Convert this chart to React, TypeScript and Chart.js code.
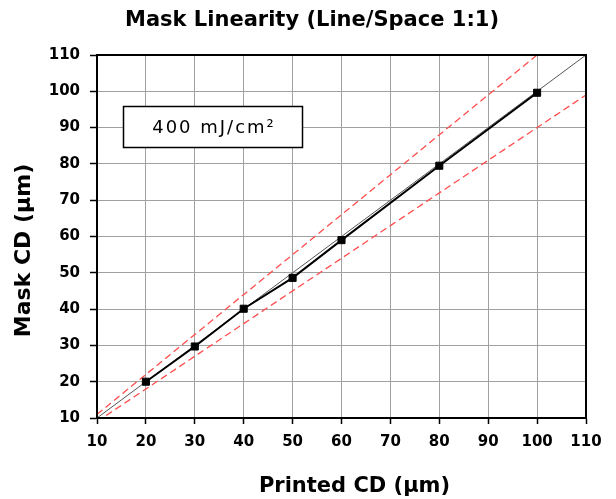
import React, { useEffect, useRef } from 'react';
import { Chart, registerables } from 'chart.js';

Chart.register(...registerables);

// ---- data ----
const printedCD = [20, 30, 40, 50, 60, 80, 100];
const maskCD = [20, 29.7, 40.1, 48.6, 59, 79.5, 99.6];
const identityX = [10, 110];
const identityY = [10, 110];
const upperX = [10, 100];
const upperY = [11, 110];
const lowerX = [10, 110];
const lowerY = [9, 99];
const axisMin = 10;
const axisMax = 110;
const axisStep = 10;
const titleText = 'Mask Linearity (Line/Space 1:1)';
const xTitle = 'Printed CD (µm)';
const yTitle = 'Mask CD (µm)';
const noteText = '400 mJ/cm²';

const FONT = "'DejaVu Sans', Verdana, sans-serif";
const W = 616;
const H = 499;

const pts = (xs: number[], ys: number[]) => xs.map((x, i) => ({ x, y: ys[i] }));

const overlay = {
  id: 'overlay',
  afterDraw(chart: any) {
    const { ctx, chartArea: a } = chart;
    ctx.save();
    // plot frame
    ctx.strokeStyle = '#000';
    ctx.lineWidth = 2;
    ctx.strokeRect(a.left, a.top, a.right - a.left, a.bottom - a.top);

    // annotation box
    const bx = a.left + 26.5;
    const by = a.top + 51.5;
    const bw = 179;
    const bh = 41;
    ctx.fillStyle = '#fff';
    ctx.fillRect(bx, by, bw, bh);
    ctx.lineWidth = 1.5;
    ctx.strokeRect(bx, by, bw, bh);
    ctx.fillStyle = '#000';
    ctx.font = `18px ${FONT}`;
    ctx.textAlign = 'center';
    ctx.textBaseline = 'middle';
    (ctx as any).letterSpacing = '2px';
    ctx.fillText(noteText, bx + bw / 2 + 1, by + bh / 2 + 1);
    (ctx as any).letterSpacing = '0px';

    // chart title
    ctx.font = `bold 21px ${FONT}`;
    ctx.textBaseline = 'alphabetic';
    ctx.fillText(titleText, 312, 26);

    // x title
    ctx.fillText(xTitle, (a.left + a.right) / 2 + 13, 492);

    // y title
    ctx.translate(24, (a.top + a.bottom) / 2 + 14);
    ctx.rotate(-Math.PI / 2);
    ctx.textBaseline = 'middle';
    ctx.font = `bold 22px ${FONT}`;
    ctx.fillText(yTitle, 0, 0);
    ctx.restore();
  },
};

export default function App() {
  const ref = useRef<HTMLCanvasElement>(null);
  useEffect(() => {
    if (!ref.current) return;
    document.body.style.margin = '0';
    document.body.style.overflow = 'hidden';
    const tickFont = { family: FONT, weight: 'bold' as const, size: 15 };
    const chart = new Chart(ref.current, {
      type: 'line',
      data: {
        datasets: [
          {
            data: pts(printedCD, maskCD),
            borderColor: '#000',
            backgroundColor: '#000',
            borderWidth: 2,
            pointStyle: 'rect',
            pointRadius: 5,
            pointBorderWidth: 1,
            pointBorderColor: '#000',
            pointBackgroundColor: '#000',
            tension: 0,
          },
          {
            data: pts(identityX, identityY),
            borderColor: '#555',
            borderWidth: 1,
            pointRadius: 0,
          },
          {
            data: pts(upperX, upperY),
            borderColor: '#ff4d4d',
            borderWidth: 1.3,
            borderDash: [7, 4],
            pointRadius: 0,
          },
          {
            data: pts(lowerX, lowerY),
            borderColor: '#ff4d4d',
            borderWidth: 1.3,
            borderDash: [7, 4],
            pointRadius: 0,
          },
        ],
      },
      options: {
        animation: false,
        responsive: false,
        layout: { padding: { top: 55, right: 30, bottom: 0, left: 0 } },
        plugins: {
          legend: { display: false },
          tooltip: { enabled: false },
          title: { display: false },
        },
        scales: {
          x: {
            type: 'linear',
            min: axisMin,
            max: axisMax,
            ticks: {
              stepSize: axisStep,
              color: '#000',
              font: tickFont,
              padding: 9,
              maxRotation: 0,
              autoSkip: false,
            },
            grid: {
              color: '#a0a0a0',
              lineWidth: 1,
              tickColor: '#000',
              tickLength: 6,
              tickWidth: 1.5,
            },
            border: { color: '#000', width: 2 },
            afterFit: (s: any) => {
              s.height = 81;
            },
          },
          y: {
            type: 'linear',
            min: axisMin,
            max: axisMax,
            ticks: {
              stepSize: axisStep,
              color: '#000',
              font: tickFont,
              padding: 10,
              autoSkip: false,
            },
            grid: {
              color: '#a0a0a0',
              lineWidth: 1,
              tickColor: '#000',
              tickLength: 7,
              tickWidth: 1.5,
            },
            border: { color: '#000', width: 2 },
            afterFit: (s: any) => {
              s.width = 97;
            },
          },
        },
      },
      plugins: [overlay],
    });
    return () => chart.destroy();
  }, []);
  return <canvas ref={ref} width={W} height={H} style={{ display: 'block' }} />;
}
